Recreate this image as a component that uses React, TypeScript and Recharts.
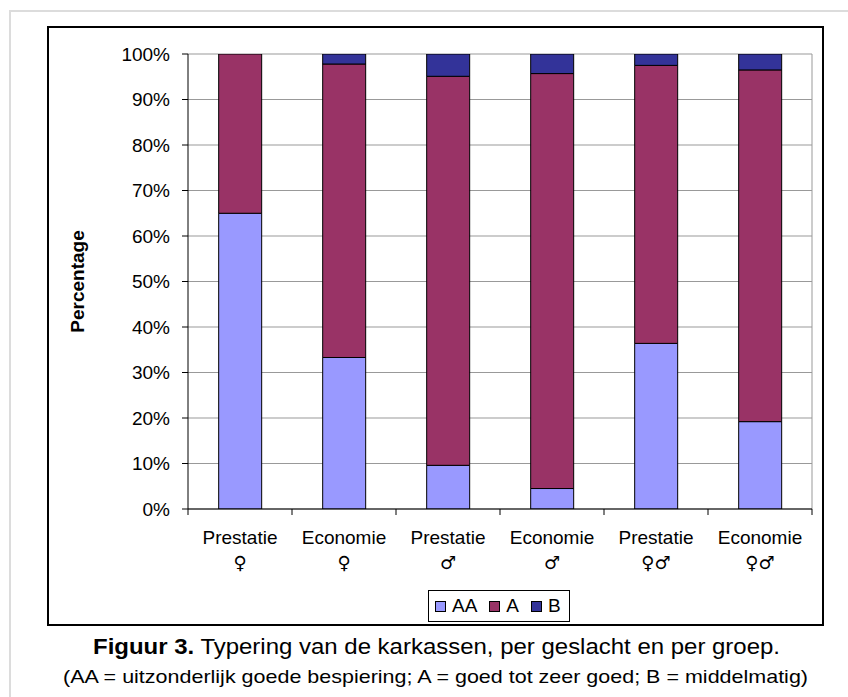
import React from "react"
import { BarChart, Bar, XAxis, YAxis, CartesianGrid, Legend } from "recharts"

const groups = ["Prestatie", "Economie", "Prestatie", "Economie", "Prestatie", "Economie"]
const sexes = ["♀", "♀", "♂", "♂", "♀♂", "♀♂"]
const aaValues = [65, 33.3, 9.6, 4.5, 36.4, 19.2]
const aValues = [35, 64.5, 85.5, 91.2, 61.1, 77.3]
const bValues = [0, 2.2, 4.9, 4.3, 2.5, 3.5]
const yTicks = [0, 10, 20, 30, 40, 50, 60, 70, 80, 90, 100]
const seriesNames = ["AA", "A", "B"]
const seriesColors = ["#9999ff", "#993366", "#333399"]

const data = groups.map((g, i) => ({
  name: `${g}\n${sexes[i]}`,
  AA: aaValues[i],
  A: aValues[i],
  B: bValues[i],
}))

const FONT = "'Liberation Sans', Arial, sans-serif"
const SYMBOL_FONT = "'DejaVu Sans'"
const W = 848
const H = 697
const margin = { top: 54, right: 36, left: 128, bottom: 128 }
const plotW = W - margin.left - 60 - margin.right
const band = plotW / data.length

function XTick(props: any) {
  const { x, y, payload, index } = props
  const [l1, l2] = String(payload.value).split("\n")
  const half = band / 2
  // text presentation selector so the symbols are not taken from an emoji font
  const sym = Array.from(l2 || "").map((c) => c + "\uFE0E").join("")
  return (
    <g>
      <line x1={x - half} y1={y} x2={x - half} y2={y + 6} stroke="#000" />
      {index === data.length - 1 && <line x1={x + half} y1={y} x2={x + half} y2={y + 6} stroke="#000" />}
      <text x={x} y={y + 35} textAnchor="middle" fontSize={19} fill="#000" fontFamily={FONT}>{l1}</text>
      <text x={x} y={y + 60} textAnchor="middle" fontSize={18} fill="#000" fontFamily={SYMBOL_FONT}
        style={{ fontVariantEmoji: "text" } as any}>{sym}</text>
    </g>
  )
}

function YTitle(props: any) {
  const vb = props.viewBox || { x: 128, y: 54, height: 455 }
  const cx = vb.x - 51
  const cy = vb.y + vb.height / 2
  return (
    <text x={cx} y={cy} transform={`rotate(-90 ${cx} ${cy})`} textAnchor="middle" dominantBaseline="central"
      fontSize={19} fontWeight="bold" fill="#000" fontFamily={FONT}>
      Percentage
    </text>
  )
}

function LegendBox() {
  return (
    <div style={{ border: "1px solid #000", background: "#fff", height: 32, boxSizing: "border-box",
      display: "flex", alignItems: "center", paddingLeft: 6, fontFamily: FONT, fontSize: 19 }}>
      {seriesNames.map((n, i) => (
        <div key={n} style={{ display: "flex", alignItems: "center", marginRight: 12 }}>
          <span style={{ width: 11, height: 11, boxSizing: "border-box", border: "1px solid #000",
            background: seriesColors[i], marginRight: 6, display: "inline-block" }} />
          <span>{n}</span>
        </div>
      ))}
    </div>
  )
}

export default function App() {
  return (
    <div style={{ position: "absolute", left: 0, top: 0, width: W, height: H, overflow: "hidden", background: "#fff" }}>
      <div style={{ position: "absolute", left: 9, top: 10, width: 900, height: 800, border: "2px solid #dcdcdc" }} />
      <div style={{ position: "absolute", left: 47, top: 26, width: 777, height: 600, boxSizing: "border-box", border: "2px solid #000" }} />
      <div style={{ position: "absolute", left: 0, top: 0 }}>
        <BarChart width={W} height={H} data={data} margin={margin} barCategoryGap="29.5%">
          <CartesianGrid stroke="#999" vertical={true}
            verticalCoordinatesGenerator={({ offset }: any) => [offset.left + offset.width]} />
          <XAxis dataKey="name" height={60} interval={0} tickSize={0} tickMargin={0} tickLine={false}
            axisLine={{ stroke: "#000" }} tick={<XTick />} />
          <YAxis domain={[0, 100]} ticks={yTicks} interval={0} allowDataOverflow width={60}
            tickFormatter={(v) => `${v}%`} tickSize={6} tickMargin={12}
            axisLine={{ stroke: "#000" }} tickLine={{ stroke: "#000" }}
            tick={{ fill: "#000", fontSize: 19, fontFamily: FONT }} label={{ content: <YTitle /> }} />
          <Legend layout="vertical" align="center" verticalAlign="middle" content={<LegendBox />}
            wrapperStyle={{ left: 428, top: 590, width: 142, height: 32 }} />
          {seriesNames.map((n, i) => (
            <Bar key={n} dataKey={n} stackId="s" fill={seriesColors[i]} stroke="#000" strokeWidth={1} isAnimationActive={false} />
          ))}
        </BarChart>
      </div>
      <svg style={{ position: "absolute", left: 0, top: 0 }} width={W} height={H}>
        <text x={93} y={654} fontSize={22} fontFamily={FONT} fill="#000" textLength={687} lengthAdjust="spacingAndGlyphs">
          <tspan fontWeight="bold">Figuur 3.</tspan> Typering van de karkassen, per geslacht en per groep.
        </text>
        <text x={63} y={683} fontSize={19} fontFamily={FONT} fill="#000" textLength={745} lengthAdjust="spacingAndGlyphs">
          (AA = uitzonderlijk goede bespiering; A = goed tot zeer goed; B = middelmatig)
        </text>
      </svg>
    </div>
  )
}
